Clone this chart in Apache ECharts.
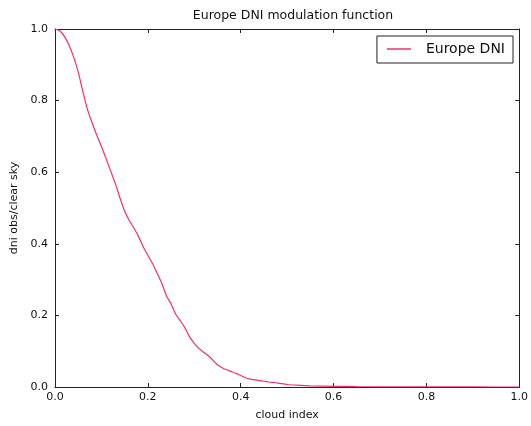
<!DOCTYPE html>
<html>
<head>
<meta charset="utf-8">
<script src="https://cdn.jsdelivr.net/npm/echarts@6/dist/echarts.min.js"></script>
<style>html,body{margin:0;padding:0;background:#fff;}#c{width:531px;height:426px;}</style>
</head>
<body>
<div id="c"></div>
<script>
const cloudIndex = [0,0.01,0.02,0.03,0.04,0.05,0.06,0.07,0.08,0.09,0.10,0.11,0.12,0.13,0.14,0.15,0.16,0.17,0.18,0.19,0.20,0.21,0.22,0.23,0.24,0.25,0.26,0.27,0.28,0.29,0.30,0.31,0.32,0.33,0.34,0.35,0.36,0.37,0.38,0.39,0.40,0.41,0.42,0.43,0.44,0.45,0.46,0.48,0.50,0.52,0.55,0.60,0.65,0.70,0.80,0.90,1.0];
const europeDNI = [1.0,0.995,0.98,0.955,0.922,0.88,0.825,0.775,0.738,0.703,0.672,0.638,0.603,0.568,0.528,0.491,0.465,0.444,0.42,0.392,0.368,0.345,0.318,0.29,0.255,0.232,0.203,0.185,0.165,0.14,0.122,0.108,0.097,0.088,0.075,0.062,0.054,0.048,0.043,0.038,0.032,0.026,0.022,0.020,0.018,0.016,0.014,0.011,0.007,0.005,0.003,0.002,0.001,0.0005,0.0002,0.0001,0];
const xTicks = [0.0,0.2,0.4,0.6,0.8,1.0];
const yTicks = [0.0,0.2,0.4,0.6,0.8,1.0];
const seriesName = 'Europe DNI';

const font = 'DejaVu Sans';
const chart = echarts.init(document.getElementById('c'), null, {renderer:'canvas'});
const axisCommon = {
  min: 0, max: 1, interval: 0.2,
  axisLine: {show: true, onZero: false, lineStyle: {color: '#222', width: 1}},
  axisTick: {show: true, inside: true, length: 4, lineStyle: {color: '#222'}},
  splitLine: {show: false},
};
chart.setOption({
  animation: false,
  backgroundColor: '#fff',
  title: {
    text: 'Europe DNI modulation function',
    left: 288, top: 4, textAlign: 'center',
    textStyle: {fontFamily: font, fontSize: 12.5, fontWeight: 'normal', color: '#111'}
  },
  grid: {left: 55, right: 9, top: 29, bottom: 34, containLabel: false},
  legend: {
    right: 18, top: 36,
    orient: 'horizontal',
    data: [{name: seriesName, icon: 'rect'}],
    itemWidth: 24, itemHeight: 1.5,
    borderColor: '#222', borderWidth: 1, borderRadius: 0,
    padding: [6, 8, 7, 10],
    textStyle: {fontFamily: font, fontSize: 14, color: '#111', padding: [0, 0, 0, 10]}
  },
  xAxis: [
    Object.assign({}, axisCommon, {
      type: 'value', position: 'bottom',
      name: 'cloud index', nameLocation: 'middle', nameGap: 23,
      nameTextStyle: {fontFamily: font, fontSize: 11, color: '#111'},
      axisLabel: {fontFamily: font, fontSize: 11, color: '#111', margin: 5,
        formatter: v => xTicks.includes(+v.toFixed(1)) ? v.toFixed(1) : ''}
    }),
    Object.assign({}, axisCommon, {
      type: 'value', position: 'top', axisLabel: {show: false}
    })
  ],
  yAxis: [
    Object.assign({}, axisCommon, {
      type: 'value', position: 'left',
      name: 'dni obs/clear sky', nameLocation: 'middle', nameGap: 32, nameRotate: 90,
      nameTextStyle: {fontFamily: font, fontSize: 11, color: '#111'},
      axisLabel: {fontFamily: font, fontSize: 11, color: '#111', margin: 7,
        formatter: v => yTicks.includes(+v.toFixed(1)) ? v.toFixed(1) : ''}
    }),
    Object.assign({}, axisCommon, {
      type: 'value', position: 'right', axisLabel: {show: false}
    })
  ],
  series: [{
    name: seriesName,
    type: 'line',
    xAxisIndex: 0, yAxisIndex: 0,
    data: cloudIndex.map((x, i) => [x, europeDNI[i]]),
    showSymbol: false,
    symbol: 'none',
    smooth: 0.2,
    color: '#f5306a',
    lineStyle: {color: '#f5306a', width: 1.2},
    z: 1
  }]
});
</script>
</body>
</html>
